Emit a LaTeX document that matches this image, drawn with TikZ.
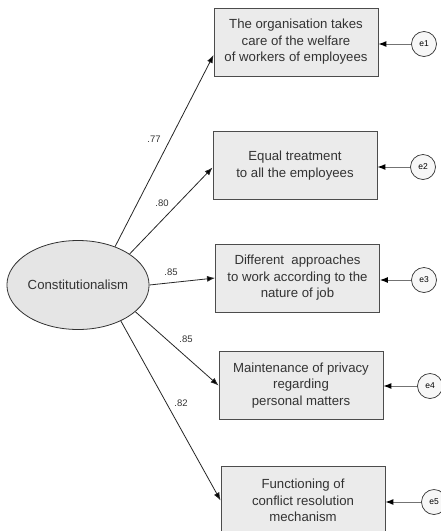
\documentclass[tikz,border=0pt]{standalone}
\usepackage{fontspec}
\setmainfont{Liberation Sans}
\usetikzlibrary{arrows.meta,shapes.geometric}
\begin{document}
\begin{tikzpicture}[x=1pt,y=-1pt,
  obs/.style={draw=black!70,line width=0.9pt,fill=black!8,minimum width=164pt,minimum height=68pt,
    inner sep=0pt,align=center,font=\fontsize{13.2}{16.5}\selectfont,text=black!80},
  lat/.style={ellipse,draw=black!80,line width=0.8pt,fill=black!10,minimum width=131pt,minimum height=89pt,
    inner sep=0pt,font=\fontsize{13.2}{16}\selectfont,text=black!80},
  err/.style={circle,draw=black!80,line width=0.7pt,fill=black!3,minimum size=25pt,inner sep=0pt,
    font=\fontsize{8.5}{10}\selectfont},
  path/.style={draw=black!85,line width=0.8pt,-{Latex[length=8pt,width=6pt,fill=black]}},
  epath/.style={draw=black!55,line width=1pt,-{Latex[length=8pt,width=6pt,fill=black,color=black]}},
  coef/.style={font=\fontsize{9.5}{11}\selectfont,text=black!80,inner sep=0pt}]
\useasboundingbox (0,0) rectangle (440,531);
\node[lat] (L) at (78,285) {Constitutionalism};
\node[obs] (b1) at (296,42) {The organisation takes\\care of the welfare\\of workers of employees};
\node[obs] (b2) at (295,165.5) {Equal treatment\\to all the employees};
\node[obs] (b3) at (297.5,278) {Different\ \ approaches\\to work according to the\\nature of job};
\node[obs] (b4) at (301,385.5) {Maintenance of privacy\\regarding\\personal matters};
\node[obs] (b5) at (303,500.5) {Functioning of\\conflict resolution\\mechanism};
\node[err] (e1) at (424,44) {e1};
\node[err] (e2) at (423,167) {e2};
\node[err] (e3) at (424,280) {e3};
\node[err] (e4) at (430,386) {e4};
\node[err] (e5) at (434,502) {e5};
\draw[path] (L.46) -- ([yshift=-13pt]b1.west);
\draw[path] (L.31) -- ([yshift=-2pt]b2.west);
\draw[path] (L.0) -- (b3.west);
\draw[path] (L.-25) -- (b4.west);
\draw[path] (L.-40) -- (b5.west);
\draw[epath] (e1) -- (e1 -| b1.east);
\draw[epath] (e2) -- (e2 -| b2.east);
\draw[epath] (e3) -- (e3 -| b3.east);
\draw[epath] (e4) -- (e4 -| b4.east);
\draw[epath] (e5) -- (e5 -| b5.east);
\node[coef] (c1) at (154,139) {.77};
\node[coef] (c2) at (162,203) {.80};
\node[coef] (c3) at (171,272) {.85};
\node[coef] (c4) at (186,339) {.85};
\node[coef] (c5) at (181,403) {.82};
\end{tikzpicture}
\end{document}
